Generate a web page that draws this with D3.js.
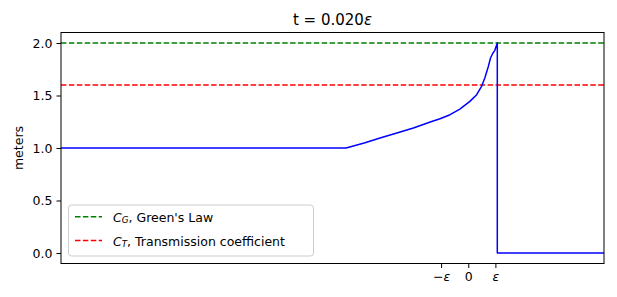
<!DOCTYPE html>
<html><head><meta charset="utf-8">
<script src="https://cdn.jsdelivr.net/npm/d3@7"></script>
<style>body{margin:0;background:#fff}text{font-family:"DejaVu Sans",sans-serif;fill:#000}</style>
</head><body><svg id="c" width="617" height="297"></svg>
<script>
// x in units of epsilon
const waveX = [-15, -4.5, -3.8, -3.25, -2.63, -2.02, -1.4, -1.04, -0.67, -0.31, 0.06, 0.31, 0.49, 0.61, 0.74, 0.82, 0.90, 0.98, 1.07, 1.07, 5];
const waveY = [1.0, 1.0, 1.05, 1.095, 1.143, 1.19, 1.248, 1.279, 1.317, 1.371, 1.444, 1.508, 1.587, 1.667, 1.777, 1.857, 1.90, 1.93, 2.0, 0.0, 0.0];
const greenLaw = 2.0;
const transCoef = 1.6;
const xTickVals = [-1, 0, 1];
const xTickLabels = ["−ε", "0", "ε"];
const yTickVals = [0, 0.5, 1.0, 1.5, 2.0];

const svg = d3.select("#c");
const L = 61, R = 604, T = 32.5, B = 263.5;
const x = d3.scaleLinear().domain([-15, 5]).range([L, R]);
const y = d3.scaleLinear().domain([-0.1, 2.1]).range([B, T]);

svg.append("clipPath").attr("id","cp").append("rect")
  .attr("x",L).attr("y",T).attr("width",R-L).attr("height",B-T);
const g = svg.append("g").attr("clip-path","url(#cp)");

g.append("line").attr("x1",L).attr("x2",R).attr("y1",y(greenLaw)).attr("y2",y(greenLaw))
  .attr("stroke","#008000").attr("stroke-width",1.5).attr("stroke-dasharray","5.5,2.4");
g.append("line").attr("x1",L).attr("x2",R).attr("y1",y(transCoef)).attr("y2",y(transCoef))
  .attr("stroke","#ff0000").attr("stroke-width",1.5).attr("stroke-dasharray","5.5,2.4");

const pts = waveX.map((v,i)=>[v, waveY[i]]);
g.append("path").attr("d", d3.line().x(d=>x(d[0])).y(d=>y(d[1]))(pts))
  .attr("fill","none").attr("stroke","#0000ff").attr("stroke-width",1.5).attr("stroke-linejoin","round");

// axes frame
svg.append("rect").attr("x",L).attr("y",T).attr("width",R-L).attr("height",B-T)
  .attr("fill","none").attr("stroke","#000").attr("stroke-width",1);

const yAx = svg.append("g").attr("transform",`translate(${L},0)`)
  .call(d3.axisLeft(y).tickValues(yTickVals).tickFormat(d3.format(".1f")).tickSize(4.5).tickPadding(4));
yAx.select(".domain").remove();
yAx.selectAll("text").attr("font-size","12.5px").attr("font-family","DejaVu Sans");

const xAx = svg.append("g").attr("transform",`translate(0,${B})`)
  .call(d3.axisBottom(x).tickValues(xTickVals).tickFormat((d,i)=>xTickLabels[i]).tickSize(4.5).tickPadding(4));
xAx.select(".domain").remove();
xAx.selectAll("text").attr("font-size","12.5px").attr("font-family","DejaVu Sans");
xAx.selectAll(".tick text").each(function(d,i){
  const t=d3.select(this); t.text(null);
  const lab=xTickLabels[i];
  if(lab.includes("ε")){
    if(lab.startsWith("−")) t.append("tspan").text("−");
    t.append("tspan").attr("font-style","italic").text("ε");
  } else t.text(lab);
});

svg.append("text").attr("x",18).attr("y",(T+B)/2).attr("transform",`rotate(-90,18,${(T+B)/2})`)
  .attr("text-anchor","middle").attr("dominant-baseline","central").attr("font-size","12.5px").text("meters");

const title = svg.append("text").attr("x",(L+R)/2).attr("y",25).attr("text-anchor","middle").attr("font-size","15px");
title.append("tspan").text("t = 0.020");
title.append("tspan").attr("font-style","italic").text("ε");

// legend
const lg = svg.append("g");
lg.append("rect").attr("x",68.5).attr("y",205).attr("width",245).attr("height",51).attr("rx",3)
  .attr("fill","#fff").attr("fill-opacity",0.8).attr("stroke","#cccccc").attr("stroke-width",1);
const items=[{c:"#008000",sub:"G",rest:", Green's Law",yy:216.7},{c:"#ff0000",sub:"T",rest:", Transmission coefficient",yy:240.5}];
items.forEach(it=>{
  lg.append("line").attr("x1",75).attr("x2",102).attr("y1",it.yy).attr("y2",it.yy)
    .attr("stroke",it.c).attr("stroke-width",1.5).attr("stroke-dasharray","5.5,2.4");
  const t=lg.append("text").attr("x",113).attr("y",it.yy).attr("dominant-baseline","central").attr("font-size","12.5px");
  t.append("tspan").attr("font-style","italic").text("C");
  t.append("tspan").attr("font-style","italic").attr("font-size","8.8px").attr("dy",3).text(it.sub);
  t.append("tspan").attr("dy",-3).text(it.rest);
});
</script></body></html>
